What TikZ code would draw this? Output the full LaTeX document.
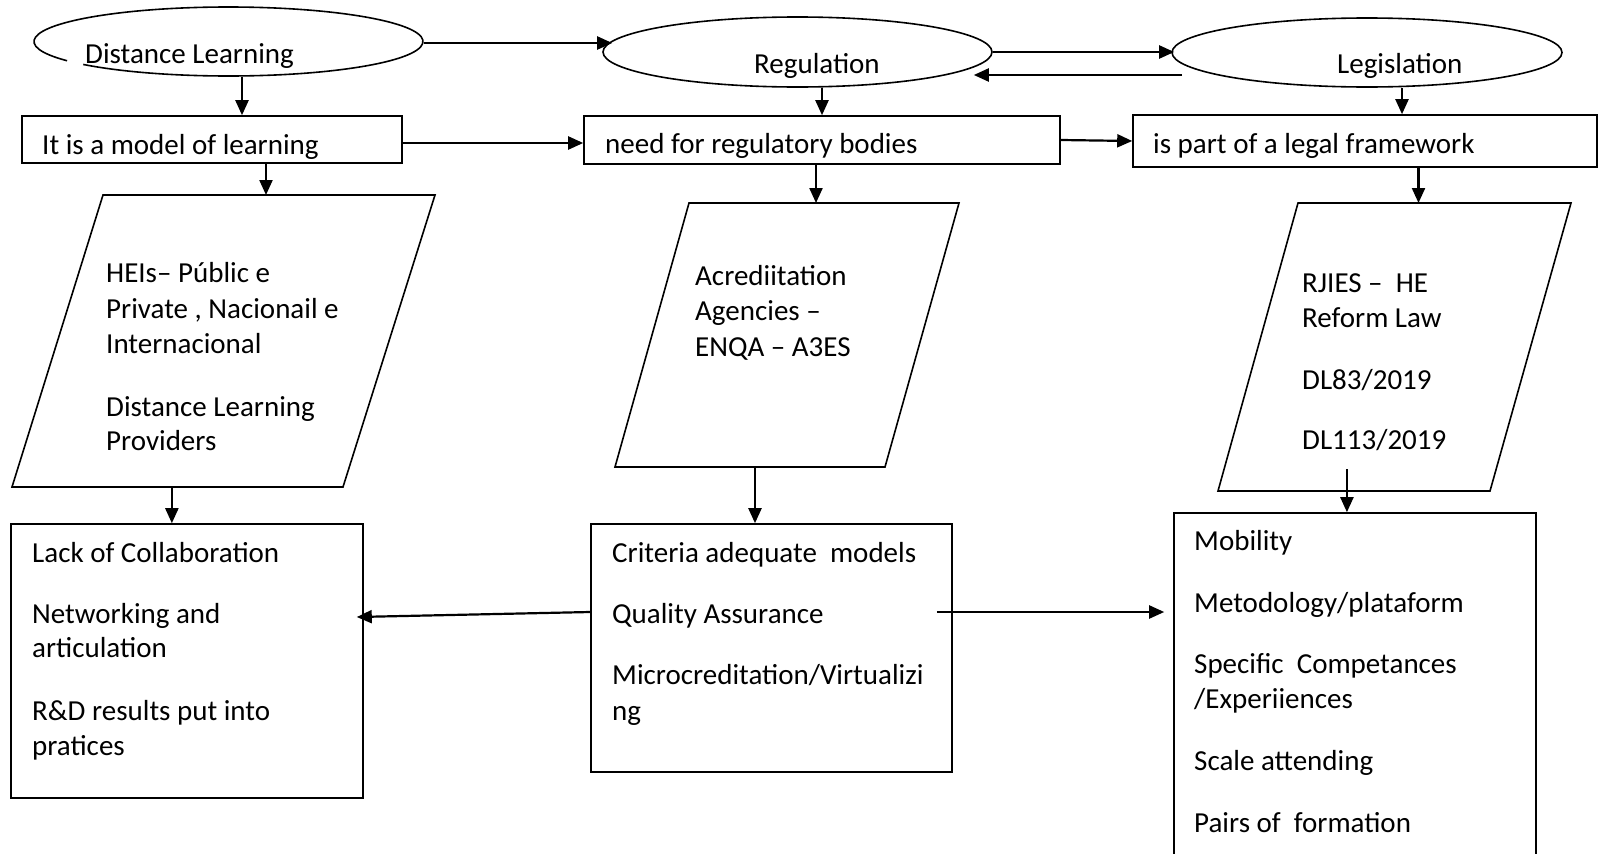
\documentclass[tikz,border=0pt]{standalone}
\usepackage{fontspec}
\setmainfont{Carlito}
\usetikzlibrary{arrows.meta,calc,shapes.geometric}
\begin{document}
\begin{tikzpicture}[x=1pt,y=1pt,
  shp/.style={draw=black, line width=1.6pt},
  box/.style={shp, rectangle, inner sep=0pt},
  oval/.style={shp, ellipse, inner sep=0pt},
  arr/.style={line width=2.2pt, -{Triangle[length=15pt,width=13pt]}},
  txt/.style={anchor=base west, inner sep=0pt, font=\fontsize{29pt}{35pt}\selectfont}]
\useasboundingbox (0,0) rectangle (1599,-854);
\fill[white] (0,0) rectangle (1599,-854);
\clip (0,0) rectangle (1599,-854);

% ellipses
\node[oval, draw=none, minimum width=389pt, minimum height=69pt] (dl) at (228.5,-41.5) {};
\draw[shp] (dl.center) ++(221.7:194.5pt and 34.5pt) arc[start angle=221.7, end angle=573.9, x radius=194.5pt, y radius=34.5pt];
\node[oval, minimum width=389pt, minimum height=70pt] (reg) at (797.5,-52) {};
\node[oval, minimum width=390pt, minimum height=69pt] (leg) at (1367,-52.5) {};
\node[txt] (tdl) at (85,-63) {Distance Learning};
\node[txt] (treg) at (754,-73) {Regulation};
\node[txt] (tleg) at (1337,-73) {Legislation};

% second row boxes
\node[box, minimum width=380pt, minimum height=47pt] (b1) at (212,-139.5) {};
\node[box, minimum width=476pt, minimum height=48pt] (b2) at (822,-140) {};
\node[box, minimum width=464pt, minimum height=52pt] (b3) at (1365,-141) {};
\node[txt] (tb1) at (42,-154) {It is a model of learning};
\node[txt] (tb2) at (605,-153) {need for regulatory bodies};
\node[txt] (tb3) at (1153,-153) {is part of a legal framework};

% parallelograms
\coordinate (p1tl) at (103,-195); \coordinate (p1tr) at (435,-195);
\coordinate (p1br) at (343,-487); \coordinate (p1bl) at (12,-487);
\coordinate (p2tl) at (689,-203); \coordinate (p2tr) at (959,-203);
\coordinate (p2br) at (885,-467); \coordinate (p2bl) at (615,-467);
\coordinate (p3tl) at (1298,-203); \coordinate (p3tr) at (1571,-203);
\coordinate (p3br) at (1490,-491); \coordinate (p3bl) at (1218,-491);
\draw[shp] (p1tl) -- (p1tr) -- (p1br) -- (p1bl) -- cycle;
\draw[shp] (p2tl) -- (p2tr) -- (p2br) -- (p2bl) -- cycle;
\draw[shp] (p3tl) -- (p3tr) -- (p3br) -- (p3bl) -- cycle;

\node[txt] (tp1a) at (106,-282) {HEIs– Públic e};
\node[txt] (tp1b) at (106,-318) {Private , Nacionail e};
\node[txt] (tp1c) at (106,-353) {Internacional};
\node[txt] (tp1d) at (106,-416) {Distance Learning};
\node[txt] (tp1e) at (106,-450) {Providers};

\node[txt] (tp2a) at (695,-285) {Acrediitation};
\node[txt] (tp2b) at (695,-320) {Agencies –};
\node[txt] (tp2c) at (695,-356) {ENQA – A3ES};

\node[txt] (tp3a) at (1302,-292) {RJIES –\ \ HE};
\node[txt] (tp3b) at (1302,-327) {Reform Law};
\node[txt] (tp3c) at (1302,-389) {DL83/2019};
\node[txt] (tp3d) at (1302,-449) {DL113/2019};

% bottom boxes
\node[box, minimum width=352pt, minimum height=274pt] (lack) at (187,-661) {};
\node[box, minimum width=361pt, minimum height=248pt] (crit) at (771.5,-648) {};
\node[box, minimum width=362pt, minimum height=357pt] (mob) at (1355,-691.5) {};

\node[txt] (tl1) at (32,-562) {Lack of Collaboration};
\node[txt] (tl2) at (32,-623) {Networking and};
\node[txt] (tl3) at (32,-657) {articulation};
\node[txt] (tl4) at (32,-720) {R\&D results put into};
\node[txt] (tl5) at (32,-755) {pratices};

\node[txt] (tc1) at (612,-562) {Criteria adequate\ \ models};
\node[txt] (tc2) at (612,-623) {Quality Assurance};
\node[txt] (tc3) at (612,-684) {Microcreditation/Virtualizi};
\node[txt] (tc4) at (612,-720) {ng};

\node[txt] (tm1) at (1194,-550) {Mobility};
\node[txt] (tm2) at (1194,-612) {Metodology/plataform};
\node[txt] (tm3) at (1194,-673) {Specific\ \ Competances};
\node[txt] (tm4) at (1194,-708) {/Experiiences};
\node[txt] (tm5) at (1194,-770) {Scale attending};
\node[txt] (tm6) at (1194,-832) {Pairs of\ \ formation};

% connectors
\draw[arr] ([yshift=-1.5pt]dl.east) -- ([xshift=10pt,yshift=-1.5pt]dl.east -| reg.west);
\draw[arr] (reg.east) -- ([xshift=3pt]reg.east -| leg.west);
\draw[arr] ($(leg.west)+(11,-22.5)$) -- ($(reg.east)+(-19,-23)$);
\draw[arr] ($(dl.south)+(13.5,0)$) -- ($(b1.north)+(30,0)$);
\draw[arr] (reg.south -| b2.north) -- (b2.north);
\coordinate (a6s) at ($(leg.south)+(35,0)$);
\draw[arr] (a6s) -- (a6s |- b3.north);
\coordinate (a7s) at ($(b1.east)+(0,-3.5)$);
\draw[arr] (a7s) -- (a7s -| b2.west);
\draw[arr] (b2.east) -- (b3.west);
\coordinate (a9s) at ($(b1.south)+(54,0)$);
\draw[arr] (a9s) -- (a9s |- p1tl);
\coordinate (a10s) at ($(b2.south)+(-6,0)$);
\draw[arr] (a10s) -- (a10s |- p2tl);
\coordinate (a11s) at ($(b3.south)+(53.5,0)$);
\draw[arr] (a11s) -- (a11s |- p3tl);
\coordinate (a12s) at ($(p1bl)!0.483!(p1br)$);
\draw[arr] (a12s) -- (a12s |- lack.north);
\coordinate (a13s) at ($(p2bl)!0.5185!(p2br)$);
\draw[arr] (a13s) -- (a13s |- crit.north);
\coordinate (a14s) at ($(p3bl)!0.474!(p3br)+(0,22)$);
\draw[arr] (a14s) -- (a14s |- mob.north);
\draw[arr] ($(crit.west)+(0,36)$) -- ($(lack.east)+(-7,44)$);
\coordinate (a16s) at ($(crit.east)+(-16,36)$);
\draw[arr] (a16s) -- ($(a16s -| mob.west)+(-9,0)$);
\end{tikzpicture}
\end{document}
